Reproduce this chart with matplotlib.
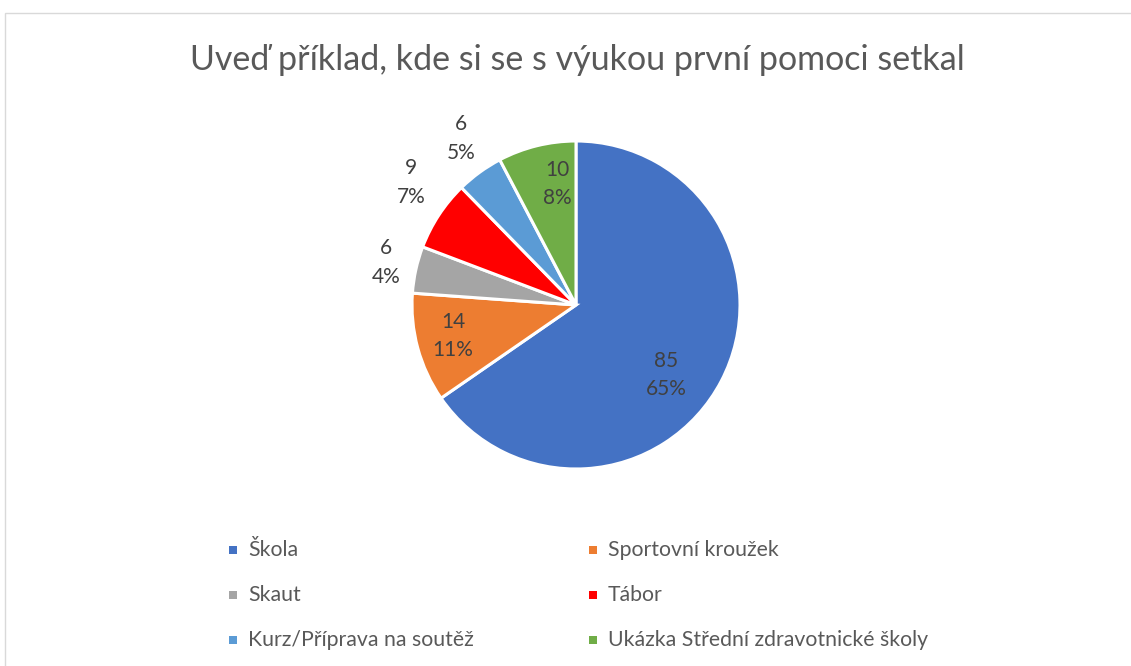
import matplotlib
matplotlib.use('Agg')
import matplotlib.pyplot as plt
from matplotlib.patches import Rectangle
import numpy as np

plt.rcParams['font.family'] = ['Lato', 'DejaVu Sans']

categories = ['Škola', 'Sportovní kroužek', 'Skaut', 'Tábor',
              'Kurz/Příprava na soutěž', 'Ukázka Střední zdravotnické školy']
values = [85, 14, 6, 9, 6, 10]
percents = ['65%', '11%', '4%', '7%', '5%', '8%']
colors = ['#4472C4', '#ED7D31', '#A5A5A5', '#FF0000', '#5B9BD5', '#70AD47']
# label placement: fraction of radius, and angle shift from the slice middle (deg)
label_r = [0.695, 0.773, 1.188, 1.251, 1.236, 0.747]
label_shift = [-10.2, -1.1, -0.2, -3.3, -1.4, -4.9]

W, H = 1131, 666
fig = plt.figure(figsize=(W / 100, H / 100), dpi=100)

# chart frame
fig.patches.append(Rectangle((5 / W, -0.01), 1.1, 1 - 13 / H + 0.01, transform=fig.transFigure,
                             fill=False, edgecolor='#D9D9D9', linewidth=1))

fig.text(577 / W, 1 - 60 / H, 'Uveď příklad, kde si se s výukou první pomoci setkal',
         ha='center', va='center', fontsize=24.5, color='#595959')

cx, cy, r = 576, 305, 164
ax = fig.add_axes([(cx - r) / W, (H - cy - r) / H, 2 * r / W, 2 * r / H])
wedges, _ = ax.pie(values, colors=colors, startangle=90, counterclock=False, radius=1,
                   wedgeprops=dict(edgecolor='white', linewidth=2.2))
ax.set_xlim(-1, 1)
ax.set_ylim(-1, 1)
ax.set_aspect('equal')
ax.axis('off')

for w, v, p, lr, sh in zip(wedges, values, percents, label_r, label_shift):
    ang = np.deg2rad((w.theta1 + w.theta2) / 2 + sh)
    ax.text(lr * np.cos(ang), lr * np.sin(ang), f'{v}\n{p}', ha='center', va='center',
            fontsize=15, color='#404040', linespacing=1.55)

# legend, two columns
col_x = [233, 593]
row_y = [550, 595, 640]
for i, (name, c) in enumerate(zip(categories, colors)):
    x = col_x[i % 2]
    y = row_y[i // 2]
    fig.patches.append(Rectangle(((x - 4) / W, 1 - (y + 4) / H), 8 / W, 8 / H,
                                 transform=fig.transFigure, facecolor=c, edgecolor='none'))
    fig.text((x + 15) / W, 1 - y / H, name, ha='left', va='center', fontsize=15.3, color='#595959')

fig.savefig('out.png', dpi=100, facecolor='white')
